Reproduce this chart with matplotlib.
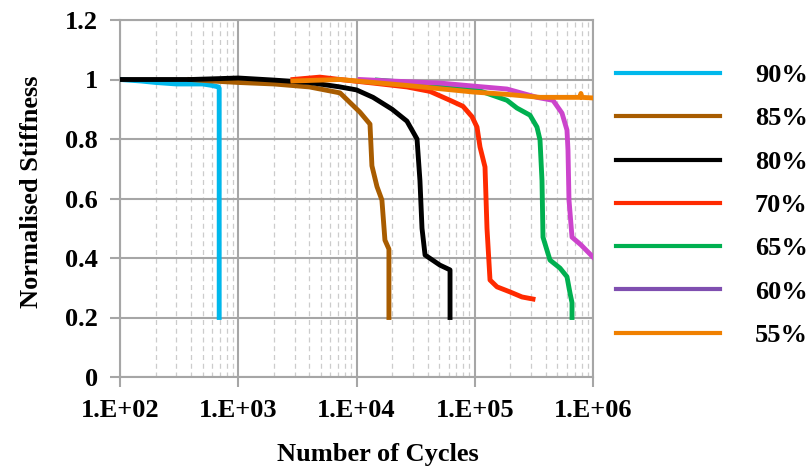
import matplotlib
matplotlib.use("Agg")
import matplotlib.pyplot as plt
from matplotlib.lines import Line2D
from matplotlib.ticker import LogLocator, FixedLocator, NullFormatter

plt.rcParams['font.family'] = ['Liberation Serif', 'DejaVu Serif']
plt.rcParams['font.weight'] = 'bold'

# cycles / normalised stiffness
n90 = [100, 150, 200, 300, 500, 600, 680, 690, 690]
s90 = [1.0, 0.995, 0.99, 0.985, 0.985, 0.98, 0.975, 0.97, 0.2]

n85 = [390, 600, 1000, 2000, 4000, 7250, 10700, 13000, 13500, 14900, 16400, 17400, 18800, 18800]
s85 = [1.0, 0.995, 0.99, 0.985, 0.975, 0.955, 0.89, 0.85, 0.71, 0.64, 0.595, 0.46, 0.43, 0.2]

n80 = [100, 200, 400, 1000, 2000, 4000, 7250, 10000, 13800, 20000, 26700, 32500, 34400, 35800, 38000, 50800, 61800, 61800]
s80 = [1.0, 1.0, 1.0, 1.005, 0.998, 0.99, 0.975, 0.965, 0.94, 0.90, 0.86, 0.80, 0.66, 0.50, 0.41, 0.376, 0.36, 0.2]

n70 = [2900, 4900, 7250, 13800, 26700, 41800, 61800, 79500, 94800, 104500, 110800, 122100, 126900, 134600, 154300, 198600, 251000, 311000]
s70 = [1.0, 1.008, 1.0, 0.988, 0.975, 0.96, 0.93, 0.91, 0.875, 0.84, 0.773, 0.706, 0.5, 0.326, 0.303, 0.286, 0.269, 0.262]

n65 = [15000, 26700, 50800, 96700, 134600, 187400, 227500, 293300, 336000, 356300, 370400, 377600, 432700, 526000, 602500, 639000, 664500, 664500]
s65 = [0.998, 0.99, 0.98, 0.97, 0.95, 0.93, 0.904, 0.88, 0.84, 0.797, 0.66, 0.47, 0.393, 0.366, 0.337, 0.282, 0.25, 0.2]

n60 = [10700, 19200, 50800, 96700, 187400, 336000, 458800, 546700, 602500, 614400, 626600, 664500, 791500, 907500, 1000000]
s60 = [1.0, 0.995, 0.988, 0.978, 0.968, 0.94, 0.93, 0.887, 0.83, 0.763, 0.595, 0.47, 0.444, 0.42, 0.403]

n55 = [2900, 7250, 26700, 96700, 187400, 356300, 780000, 790000, 800000, 1000000]
s55 = [0.995, 1.0, 0.98, 0.958, 0.95, 0.94, 0.94, 0.953, 0.94, 0.938]

labels = ['90%', '85%', '80%', '70%', '65%', '60%', '55%']
colors = ['#00B8EC', '#A85C00', '#000000', '#FF2A00', '#00B050', '#CC44CC', '#F08000']
legend_colors = ['#00B8EC', '#A85C00', '#000000', '#FF2A00', '#00B050', '#7F4FB0', '#F08000']

yticks = [0, 0.2, 0.4, 0.6, 0.8, 1.0, 1.2]
ytick_labels = ['0', '0.2', '0.4', '0.6', '0.8', '1', '1.2']
xticks = [1e2, 1e3, 1e4, 1e5, 1e6]
xtick_labels = ['1.E+02', '1.E+03', '1.E+04', '1.E+05', '1.E+06']

fig = plt.figure(figsize=(8.11, 4.70), dpi=100)
ax = fig.add_axes([120/811, 1-377/470, (593-120)/811, (377-20)/470])

series = [(n90, s90), (n85, s85), (n80, s80), (n70, s70), (n65, s65), (n60, s60), (n55, s55)]
for (n, s), c in zip(series, colors):
    ax.plot(n, s, color=c, lw=3.5, solid_joinstyle='round', zorder=3)

ax.set_xscale('log')
ax.set_xlim(1e2, 1e6)
ax.set_ylim(0, 1.2)
ax.xaxis.set_major_locator(FixedLocator(xticks))
ax.set_xticklabels(xtick_labels)
ax.xaxis.set_minor_locator(LogLocator(base=10, subs=range(2, 10)))
ax.xaxis.set_minor_formatter(NullFormatter())
ax.set_yticks(yticks)
ax.set_yticklabels(ytick_labels)

ax.grid(which='major', color='#A6A6A6', lw=1.5)
ax.grid(which='minor', axis='x', color='#CCCCCC', lw=0.9, ls=(0, (4, 3)))
ax.set_axisbelow(True)
for sp in ax.spines.values():
    sp.set_color('#A6A6A6')
    sp.set_linewidth(1.5)
ax.tick_params(which='major', length=7, width=1.5, color='#A6A6A6', labelsize=19, pad=9)
ax.tick_params(which='minor', length=0)

ax.set_xlabel('Number of Cycles', fontsize=19, fontweight='bold')
ax.xaxis.set_label_coords(0.545, -0.185)
ax.set_ylabel('Normalised Stiffness', fontsize=19, fontweight='bold')
ax.yaxis.set_label_coords(-0.163, 0.52)

handles = [Line2D([], [], color=c, lw=3.0) for c in legend_colors]
fig.legend(handles, labels, loc='upper left', bbox_to_anchor=(592/811, 1-40/470),
           frameon=False, handlelength=3.94, handletextpad=1.33,
           labelspacing=0.75, prop={'weight': 'bold', 'size': 19})

fig.savefig('out.png', dpi=100)
